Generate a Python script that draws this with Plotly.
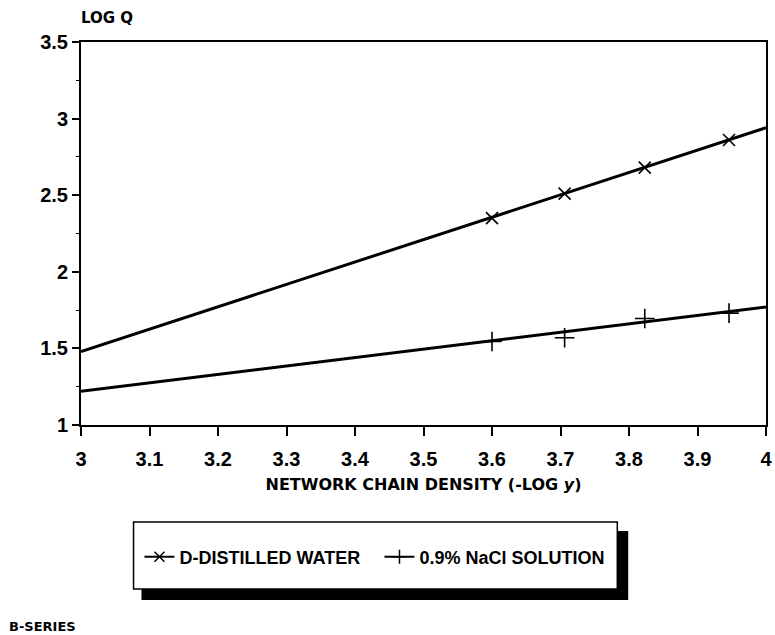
import plotly.graph_objects as go

# Data
x_points = [3.6, 3.706, 3.823, 3.946]
water_points = [2.35, 2.51, 2.68, 2.86]
nacl_points = [1.545, 1.57, 1.695, 1.73]

fit_x = [3.0, 4.0]
water_fit = [1.48, 2.94]
nacl_fit = [1.22, 1.77]

x_ticks = [3, 3.1, 3.2, 3.3, 3.4, 3.5, 3.6, 3.7, 3.8, 3.9, 4]
y_ticks = [1, 1.5, 2, 2.5, 3, 3.5]

FONT = "Liberation Sans"
WIDE = "DejaVu Sans"
W, H = 775, 635
L, R, T, B = 81, 3, 42, 210
pw, ph = W - L - R, H - T - B

def px(xp):
    return (xp - L) / pw

def py(yp):
    return (H - B - yp) / ph

fig = go.Figure()

fig.add_trace(go.Scatter(x=fit_x, y=water_fit, mode="lines",
                         line=dict(color="black", width=3), showlegend=False, hoverinfo="skip"))
fig.add_trace(go.Scatter(x=fit_x, y=nacl_fit, mode="lines",
                         line=dict(color="black", width=3), showlegend=False, hoverinfo="skip"))
fig.add_trace(go.Scatter(x=x_points, y=water_points, mode="markers",
                         marker=dict(symbol="x-thin", size=12, line=dict(color="black", width=1.6)),
                         showlegend=False))
fig.add_trace(go.Scatter(x=x_points, y=nacl_points, mode="markers",
                         marker=dict(symbol="cross-thin", size=14, line=dict(color="black", width=1.6)),
                         showlegend=False))
# legend entries
fig.add_trace(go.Scatter(x=[None], y=[None], mode="lines+markers", name="D-DISTILLED WATER",
                         line=dict(color="black", width=2),
                         marker=dict(symbol="x-thin", size=10, line=dict(color="black", width=1.5))))
fig.add_trace(go.Scatter(x=[None], y=[None], mode="lines+markers", name="0.9% NaCl SOLUTION",
                         line=dict(color="black", width=2),
                         marker=dict(symbol="cross-thin", size=10, line=dict(color="black", width=1.5))))

axis_common = dict(showline=True, linecolor="black", linewidth=2, mirror=True,
                   ticks="outside", tickcolor="black", tickwidth=2,
                   showgrid=False, zeroline=False, ticklabeloverflow="allow",
                   tickfont=dict(family=FONT, size=20, color="black", weight="bold"))

fig.update_xaxes(range=[3, 4], tickvals=x_ticks, ticktext=[str(v) for v in x_ticks],
                 ticklen=9, ticklabelstandoff=6,
                 title=dict(text="NETWORK CHAIN DENSITY (-LOG <i>y</i>)",
                            font=dict(family=WIDE, size=16, color="black", weight="bold"),
                            standoff=10),
                 **axis_common)
fig.update_yaxes(range=[1, 3.5], tickvals=y_ticks, ticktext=[str(v) for v in y_ticks],
                 ticklen=7,
                 minor=dict(tickvals=[1.25, 1.75, 2.25, 2.75, 3.25], ticks="outside",
                            ticklen=3, tickcolor="black", tickwidth=1),
                 **axis_common)

# legend box shadow and frame
fig.add_shape(type="rect", xref="paper", yref="paper",
              x0=px(142), x1=px(633), y0=py(600), y1=py(531),
              fillcolor="black", line=dict(width=0), layer="below")
fig.add_shape(type="rect", xref="paper", yref="paper",
              x0=px(134), x1=px(622), y0=py(589), y1=py(522),
              fillcolor="white", line=dict(color="black", width=1.5), layer="below")

fig.add_annotation(text="LOG Q", xref="paper", yref="paper", x=px(79), y=py(18),
                   xanchor="left", yanchor="middle", showarrow=False,
                   font=dict(family=WIDE, size=15, color="black", weight="bold"))
fig.add_annotation(text="B-SERIES", xref="paper", yref="paper", x=px(6), y=py(626),
                   xanchor="left", yanchor="middle", showarrow=False,
                   font=dict(family=WIDE, size=13, color="black", weight="bold"))

fig.update_layout(
    width=W, height=H,
    margin=dict(l=L, r=R, t=T, b=B),
    paper_bgcolor="white", plot_bgcolor="white",
    showlegend=True,
    legend=dict(orientation="h", x=px(140), y=py(557), xanchor="left", yanchor="middle",
                bgcolor="rgba(0,0,0,0)", borderwidth=0,
                font=dict(family=FONT, size=18, color="black", weight="bold"),
                entrywidth=195, entrywidthmode="pixels", itemwidth=30),
)

fig.write_html("out.html")
